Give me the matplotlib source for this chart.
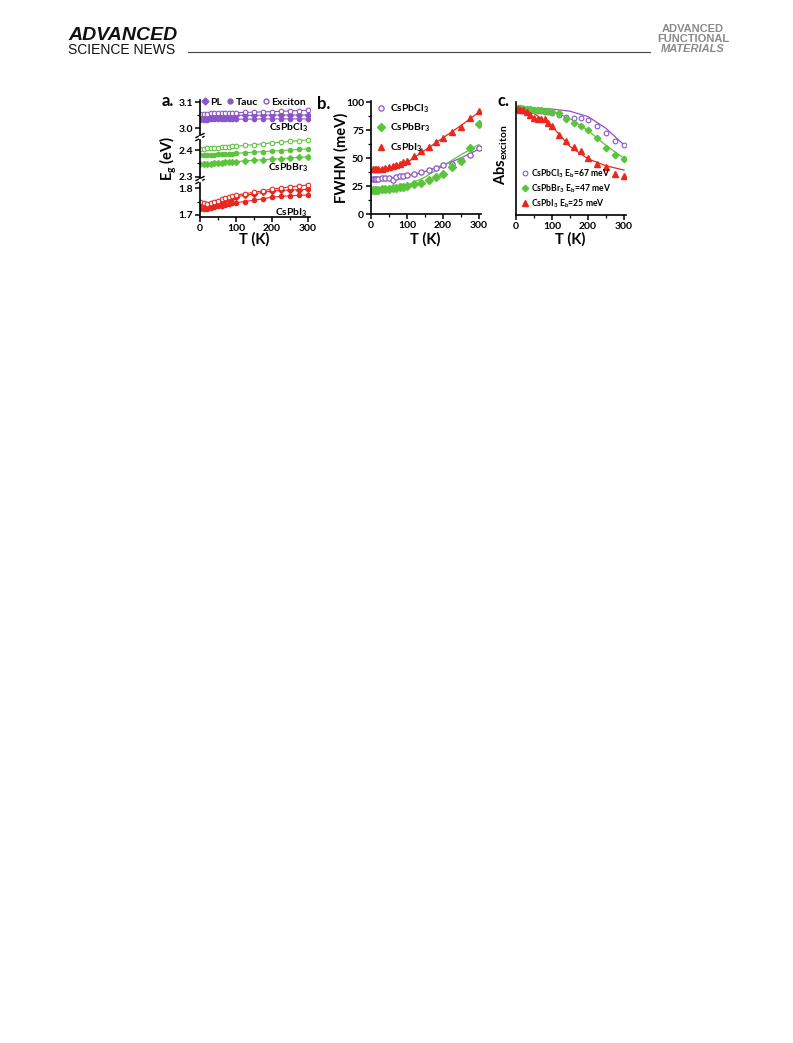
import numpy as np
import matplotlib
matplotlib.use('Agg')
import matplotlib.pyplot as plt
from matplotlib.ticker import MultipleLocator, NullLocator

plt.rcParams['font.family'] = ['Lato', 'DejaVu Sans']
plt.rcParams['font.weight'] = 'bold'
plt.rcParams['mathtext.fontset'] = 'custom'
plt.rcParams['mathtext.rm'] = 'Lato:bold'
plt.rcParams['mathtext.it'] = 'Lato:bold'
plt.rcParams['mathtext.bf'] = 'Lato:bold'

PURPLE = '#8a55c6'
GREEN = '#5cc43c'
RED = '#e8281e'

# ---- panel a: band gap vs T (broken axis) ----
T_a = [0, 10, 20, 30, 40, 50, 60, 70, 80, 90, 100, 125, 150, 175, 200, 225, 250, 275, 300]
cl_exc = [3.054, 3.055, 3.055, 3.056, 3.056, 3.057, 3.057, 3.058, 3.058, 3.059, 3.059,
          3.060, 3.061, 3.062, 3.063, 3.064, 3.066, 3.067, 3.068]
cl_pl = [3.047, 3.047, 3.047, 3.047, 3.048, 3.048, 3.048, 3.048, 3.048, 3.048, 3.049,
         3.049, 3.049, 3.049, 3.050, 3.050, 3.050, 3.050, 3.050]
cl_tauc = [3.032, 3.032, 3.032, 3.033, 3.033, 3.033, 3.033, 3.033, 3.034, 3.034, 3.034,
           3.034, 3.034, 3.035, 3.035, 3.035, 3.035, 3.035, 3.035]
br_exc = [2.404, 2.405, 2.406, 2.407, 2.408, 2.409, 2.410, 2.411, 2.412, 2.413, 2.414,
          2.417, 2.420, 2.423, 2.426, 2.429, 2.432, 2.435, 2.437]
br_tauc = [2.381, 2.381, 2.382, 2.382, 2.383, 2.384, 2.384, 2.385, 2.386, 2.387, 2.388,
           2.390, 2.392, 2.394, 2.396, 2.398, 2.400, 2.402, 2.404]
br_pl = [2.348, 2.349, 2.349, 2.350, 2.351, 2.352, 2.353, 2.354, 2.355, 2.356, 2.357,
         2.360, 2.362, 2.364, 2.366, 2.368, 2.370, 2.373, 2.375]
i_exc = [1.747, 1.744, 1.742, 1.743, 1.748, 1.753, 1.758, 1.762, 1.766, 1.770, 1.774,
         1.779, 1.784, 1.790, 1.796, 1.800, 1.804, 1.808, 1.811]
i_pl = [1.740, 1.736, 1.732, 1.734, 1.740, 1.745, 1.750, 1.755, 1.760, 1.764, 1.768,
        1.773, 1.778, 1.784, 1.789, 1.791, 1.793, 1.794, 1.795]
i_tauc = [1.721, 1.722, 1.723, 1.726, 1.729, 1.732, 1.735, 1.738, 1.741, 1.744, 1.746,
          1.750, 1.755, 1.760, 1.766, 1.769, 1.771, 1.773, 1.774]

# ---- panel b: FWHM vs T ----
T_b = [5, 10, 15, 20, 30, 40, 50, 60, 70, 80, 90, 100, 120, 140, 160, 180, 200, 225, 250, 275, 300]
fw_cl = [31, 31, 31, 31.5, 32, 32, 32.5, 30, 33, 33.5, 34, 34.5, 36, 37.5, 39, 41, 43.5, 45, 48, 53, 59]
fw_br = [21, 21, 21, 21.5, 22, 22, 22.5, 23, 23.5, 24, 24.5, 25, 27, 28, 30, 33, 36, 42, 47, 59, 80]
fw_i = [40, 40, 40, 40, 40, 41, 42, 43, 44, 45, 46, 47, 52, 56, 60, 64, 68, 73, 78, 86, 92]
T_fit = [0, 50, 100, 150, 200, 250, 300]
fit_cl = [30, 31.5, 34, 38, 43.5, 50, 58]
fit_br = [21, 22, 25.5, 33, 43, 53, 62]
fit_i = [39, 41, 46, 57, 68, 79, 91]

# ---- panel c: exciton absorption vs T ----
T_c = [5, 10, 20, 30, 40, 50, 60, 70, 80, 90, 100, 120, 140, 160, 180, 200, 225, 250, 275, 300]
abs_cl = [1.0, 1.0, 1.0, 0.99, 0.99, 0.98, 0.975, 0.97, 0.965, 0.96, 0.955, 0.935, 0.92, 0.91,
          0.905, 0.885, 0.83, 0.77, 0.69, 0.655]
abs_br = [1.0, 1.0, 0.995, 0.99, 0.99, 0.985, 0.98, 0.98, 0.975, 0.97, 0.965, 0.95, 0.9, 0.86,
          0.83, 0.79, 0.72, 0.63, 0.565, 0.52]
abs_i = [0.99, 0.985, 0.98, 0.96, 0.935, 0.905, 0.9, 0.9, 0.895, 0.86, 0.83, 0.745, 0.69, 0.64,
         0.6, 0.53, 0.48, 0.445, 0.385, 0.365]
fitc_cl = [1.0, 1.0, 0.99, 0.97, 0.92, 0.81, 0.655]
fitc_br = [1.0, 0.995, 0.975, 0.9, 0.79, 0.65, 0.53]
fitc_i = [0.985, 0.95, 0.83, 0.64, 0.525, 0.46, 0.42]

W, H = 793, 1043
fig = plt.figure(figsize=(W / 100, H / 100), dpi=100)


def px_axes(l, t, r, b):
    return fig.add_axes([l / W, 1 - b / H, (r - l) / W, (b - t) / H])


def style(ax):
    for s in ['top', 'right']:
        ax.spines[s].set_visible(False)
    for s in ['left', 'bottom']:
        ax.spines[s].set_linewidth(1.2)
    ax.tick_params(which='major', length=3.5, width=1.1, labelsize=7.5, pad=1.5)
    ax.tick_params(which='minor', length=2, width=0.9)


def bold_ticks(ax):
    for lab in ax.get_xticklabels() + ax.get_yticklabels():
        lab.set_fontweight('bold')


# header
fig.text(68 / W, 1 - 40 / H, 'ADVANCED', fontsize=14, fontweight='heavy', style='italic',
         family=['Liberation Sans', 'DejaVu Sans'], color='#111111')
fig.text(68 / W, 1 - 54 / H, 'SCIENCE NEWS', fontsize=10, fontweight='normal',
         family=['Liberation Sans Narrow', 'Liberation Sans'], color='#111111')
fig.add_artist(plt.Line2D([188 / W, 650 / W], [1 - 52 / H, 1 - 52 / H], color='#444444', lw=0.8))
for txt, yy, st in [('ADVANCED', 31.5, 'normal'), ('FUNCTIONAL', 41.5, 'normal'), ('MATERIALS', 51.5, 'italic')]:
    fig.text(693 / W, 1 - yy / H, txt, fontsize=8, fontweight='bold', style=st, ha='center',
             family=['Liberation Sans Narrow', 'Liberation Sans'], color='#8a8a8a')

# ---- panel a ----
xa0, xa1 = 200, 200 + 306 * 0.36
sc = 270.0  # px per eV unit
ax_top = px_axes(xa0, 100, xa1, 137)
ax_mid = px_axes(xa0, 137, xa1, 180)
ax_bot = px_axes(xa0, 180, xa1, 217)
ax_top.set_ylim(3.1 - 35 / 260, 3.1 + 2 / 260)
ax_mid.set_ylim(2.4 - 30 / sc, 2.4 + 13 / sc)
ax_bot.set_ylim(1.8 - 29 / sc, 1.8 + 8 / sc)

groups = [(ax_top, cl_pl, cl_tauc, cl_exc, PURPLE),
          (ax_mid, br_pl, br_tauc, br_exc, GREEN),
          (ax_bot, i_pl, i_tauc, i_exc, RED)]
for ax, pl, tauc, exc, c in groups:
    ax.plot(T_a, pl, '-', color=c, lw=0.8, marker='D', ms=3, mfc=c, mec=c)
    ax.plot(T_a, tauc, '-', color=c, lw=0.8, marker='o', ms=3, mfc=c, mec=c)
    ax.plot(T_a, exc, '-', color=c, lw=0.8, marker='o', ms=3.3, mfc='white', mec=c, mew=0.8)
    ax.set_xlim(0, 306)
    style(ax)
    ax.xaxis.set_minor_locator(MultipleLocator(50))
    ax.xaxis.set_major_locator(MultipleLocator(100))
    ax.yaxis.set_major_locator(MultipleLocator(0.1))
    ax.yaxis.set_minor_locator(MultipleLocator(0.05))
    ax.patch.set_alpha(0)

for ax in [ax_top, ax_mid]:
    ax.spines['bottom'].set_visible(False)
    ax.tick_params(axis='x', which='both', bottom=False, labelbottom=False)

# break marks on the y axis
for yb in [137, 180]:
    for dy in [-1.5, 1.5]:
        fig.add_artist(plt.Line2D([(xa0 - 4) / W, (xa0 + 4) / W],
                                  [1 - (yb + dy + 2) / H, 1 - (yb + dy - 2) / H],
                                  color='black', lw=1.0))
    fig.add_artist(plt.Rectangle(((xa0 - 1) / W, 1 - (yb + 1) / H), 2 / W, 2 / H,
                                 color='white', zorder=5))

ax_top.set_yticks([3.0, 3.1])
ax_mid.set_yticks([2.3, 2.4])
ax_bot.set_yticks([1.7, 1.8])
for ax in [ax_top, ax_mid, ax_bot]:
    bold_ticks(ax)

ax_top.text(300, 3.0, 'CsPbCl$_3$', ha='right', va='center', fontsize=7.5)
ax_mid.text(300, 2.335, 'CsPbBr$_3$', ha='right', va='center', fontsize=7.5)
ax_bot.text(300, 1.71, 'CsPbI$_3$', ha='right', va='center', fontsize=7.5)

h1 = plt.Line2D([], [], ls='none', marker='D', ms=3.5, color=PURPLE)
h2 = plt.Line2D([], [], ls='none', marker='o', ms=3.5, color=PURPLE)
h3 = plt.Line2D([], [], ls='none', marker='o', ms=3.5, mfc='white', mec=PURPLE)
fig.legend([h1, h2, h3], ['PL', 'Tauc', 'Exciton'], loc='center', ncol=3,
           bbox_to_anchor=(254 / W, 1 - 102 / H), frameon=False, fontsize=7.5,
           handlelength=0.6, handletextpad=0.2, columnspacing=0.5, borderpad=0)

fig.text(168 / W, 1 - 158 / H, 'E$_g$ (eV)', rotation=90, ha='center', va='center', fontsize=10.5)
fig.text(254 / W, 1 - 239 / H, 'T (K)', ha='center', va='center', fontsize=10.5)
fig.text(162 / W, 1 - 101 / H, 'a.', ha='left', va='center', fontsize=12)

# ---- panel b ----
xb0 = 371
ax_b = px_axes(xb0, 214 - 101 * 1.12, xb0 + 306 * 0.36, 214)
ax_b.plot(T_fit, fit_cl, '-', color=PURPLE, lw=0.9)
ax_b.plot(T_fit, fit_br, '-', color=GREEN, lw=0.9)
ax_b.plot(T_fit, fit_i, '-', color=RED, lw=0.9)
ax_b.plot(T_b, fw_cl, 'o', ms=3.8, mfc='white', mec=PURPLE, mew=0.9, label='CsPbCl$_3$')
ax_b.plot(T_b, fw_br, 'D', ms=3.6, color=GREEN, label='CsPbBr$_3$')
ax_b.plot(T_b, fw_i, '^', ms=4.2, color=RED, label='CsPbI$_3$')
ax_b.set_xlim(0, 306)
ax_b.set_ylim(0, 101)
style(ax_b)
ax_b.xaxis.set_major_locator(MultipleLocator(100))
ax_b.xaxis.set_minor_locator(MultipleLocator(50))
ax_b.yaxis.set_major_locator(MultipleLocator(25))
ax_b.yaxis.set_minor_locator(MultipleLocator(12.5))
bold_ticks(ax_b)
ax_b.legend(loc='upper left', bbox_to_anchor=(0.0, 1.04), frameon=False, fontsize=7.5,
            handlelength=0.8, handletextpad=0.4, labelspacing=0.65, borderpad=0.1)
fig.text(341 / W, 1 - 158 / H, 'FWHM (meV)', rotation=90, ha='center', va='center', fontsize=10.5)
fig.text(425 / W, 1 - 239 / H, 'T (K)', ha='center', va='center', fontsize=10.5)
fig.text(317 / W, 1 - 104 / H, 'b.', ha='left', va='center', fontsize=12)

# ---- panel c ----
xc0 = 516
ax_c = px_axes(xc0, 102, xc0 + 306 * 0.36, 215)
ax_c.plot(T_fit, fitc_cl, '-', color=PURPLE, lw=0.9)
ax_c.plot(T_fit, fitc_br, '-', color=GREEN, lw=0.9)
ax_c.plot(T_fit, fitc_i, '-', color=RED, lw=0.9)
ax_c.plot(T_c, abs_cl, 'o', ms=3.4, mfc='white', mec=PURPLE, mew=0.8, label='CsPbCl$_3$ E$_b$=67 meV')
ax_c.plot(T_c, abs_br, 'D', ms=3.3, color=GREEN, label='CsPbBr$_3$ E$_b$=47 meV')
ax_c.plot(T_c, abs_i, '^', ms=3.8, color=RED, label='CsPbI$_3$ E$_b$=25 meV')
ax_c.set_xlim(0, 306)
ax_c.set_ylim(0, (215 - 102) / 107)
style(ax_c)
ax_c.xaxis.set_major_locator(MultipleLocator(100))
ax_c.xaxis.set_minor_locator(MultipleLocator(50))
ax_c.yaxis.set_major_locator(NullLocator())
ax_c.yaxis.set_minor_locator(NullLocator())
bold_ticks(ax_c)
ax_c.legend(loc='lower left', bbox_to_anchor=(0.0, 0.0), frameon=False, fontsize=6.2,
            handlelength=0.8, handletextpad=0.3, labelspacing=0.3, borderpad=0.1)
fig.text(501 / W, 1 - 155 / H, 'Abs$_{exciton}$', rotation=90, ha='center', va='center', fontsize=10.5)
fig.text(570 / W, 1 - 239 / H, 'T (K)', ha='center', va='center', fontsize=10.5)
fig.text(497 / W, 1 - 101 / H, 'c.', ha='left', va='center', fontsize=12)

fig.savefig('out.png', dpi=100)
